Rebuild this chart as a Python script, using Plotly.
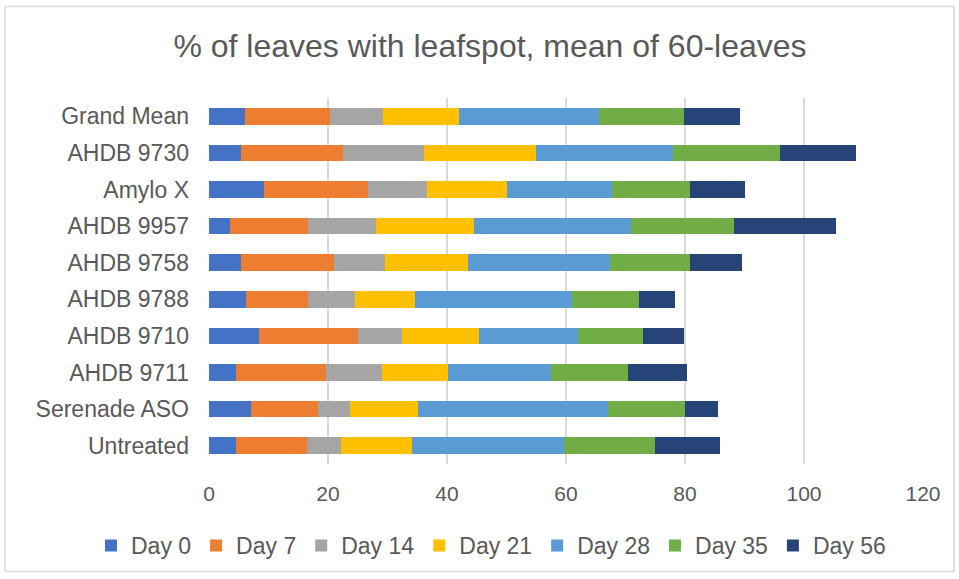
import plotly.graph_objects as go

categories = ["Untreated", "Serenade ASO", "AHDB 9711", "AHDB 9710", "AHDB 9788",
              "AHDB 9758", "AHDB 9957", "Amylo X", "AHDB 9730", "Grand Mean"]
series_names = ["Day 0", "Day 7", "Day 14", "Day 21", "Day 28", "Day 35", "Day 56"]
day0 = [4.6, 7.1, 4.6, 8.4, 6.3, 5.4, 3.5, 9.3, 5.4, 6.0]
day7 = [11.8, 11.3, 15.1, 16.6, 10.4, 15.6, 13.2, 17.5, 17.2, 14.3]
day14 = [5.8, 5.3, 9.4, 7.5, 7.9, 8.6, 11.3, 9.9, 13.6, 9.0]
day21 = [12.0, 11.5, 11.0, 12.9, 10.1, 13.9, 16.6, 13.3, 18.8, 12.7]
day28 = [25.5, 31.9, 17.4, 16.6, 26.3, 23.9, 26.3, 17.8, 23.0, 23.6]
day35 = [15.3, 12.9, 13.0, 11.0, 11.2, 13.4, 17.4, 13.0, 17.9, 14.2]
day56 = [10.9, 5.6, 9.8, 6.9, 6.2, 8.8, 17.0, 9.2, 12.9, 9.5]
x_ticks = [0, 20, 40, 60, 80, 100, 120]

values = [day0, day7, day14, day21, day28, day35, day56]
colors = ["#4472C4", "#ED7D31", "#A5A5A5", "#FFC000", "#5B9BD5", "#70AD47", "#264478"]

fig = go.Figure()
for name, vals, col in zip(series_names, values, colors):
    fig.add_trace(go.Bar(y=categories, x=vals, name=name, orientation="h",
                         marker=dict(color=col, line=dict(width=0))))

font = "Liberation Sans, Arial, sans-serif"
fig.update_layout(
    barmode="stack",
    bargap=0.55,
    width=959, height=579,
    margin=dict(l=209, r=36, t=98, b=113),
    paper_bgcolor="white", plot_bgcolor="white",
    title=dict(text="% of leaves with leafspot, mean of 60-leaves",
               x=490 / 959, xanchor="center", y=1 - 46 / 579, yanchor="middle",
               font=dict(family=font, size=32, color="#595959")),
    font=dict(family=font, size=23, color="#595959"),
    xaxis=dict(range=[0, 120], tickvals=x_ticks, showgrid=True, gridcolor="#D9D9D9",
               gridwidth=2, zeroline=False, showline=False, ticks="",
               tickfont=dict(size=21, color="#595959"), ticklabelstandoff=15),
    yaxis=dict(showgrid=False, showline=False, ticks="",
               tickfont=dict(size=23, color="#595959"), ticklabelstandoff=19),
    legend=dict(orientation="h", x=(91 - 209) / 714, xanchor="left",
                y=(466 - 548) / 368, yanchor="middle",
                font=dict(size=23, color="#595959"), traceorder="normal"),
    showlegend=True,
)
fig.add_shape(type="rect", xref="paper", yref="paper",
              x0=-204 / 714, x1=(954 - 209) / 714, y0=-(574 - 466) / 368, y1=1 + (98 - 6) / 368,
              line=dict(color="#D9D9D9", width=1.5), fillcolor="rgba(0,0,0,0)")
fig.write_html("out.html")
